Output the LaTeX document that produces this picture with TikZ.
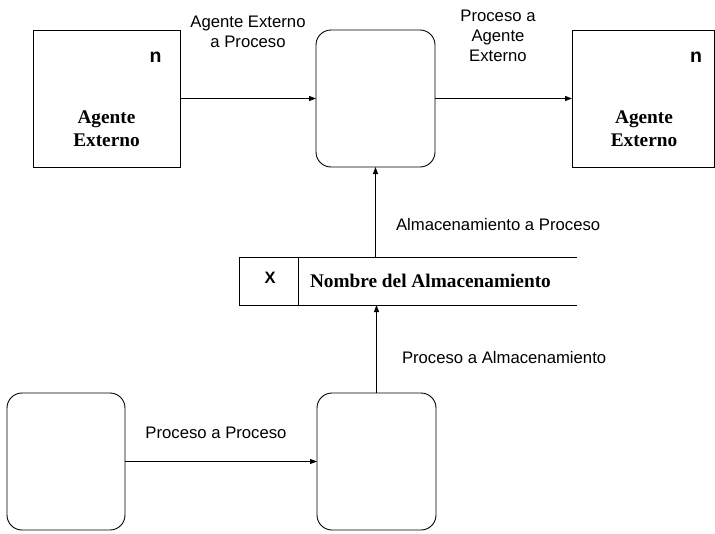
\documentclass[tikz,border=0pt]{standalone}
\usepackage{fontspec}
\setmainfont{Liberation Sans}
\newfontfamily\lsans{Liberation Sans}
\newfontfamily\lserif{Liberation Serif}
\usetikzlibrary{arrows.meta}
\begin{document}
\begin{tikzpicture}[x=1pt,y=-1pt,
  every node/.style={inner sep=0pt,outer sep=0pt},
  agent/.style={draw,line width=0.9pt,minimum width=147pt,minimum height=137pt},
  proc/.style={draw,line width=0.9pt,rounded corners=15pt,minimum width=119pt,minimum height=137pt},
  lbl/.style={font=\lsans\fontsize{16.7}{20}\selectfont,align=center},
  ttl/.style={font=\lserif\bfseries\fontsize{19.3}{23}\selectfont,align=center},
  cornermark/.style={font=\lsans\bfseries\fontsize{19.5}{20}\selectfont},
  arr/.style={line width=0.9pt,-{Triangle[length=7pt,width=5pt]}},
  ln/.style={line width=0.9pt}]
\useasboundingbox (0,0) rectangle (715,533);
% nodes
\node[agent] (ae1) at (106.5,98.5) {};
\node[proc] (p1) at (375.5,98.5) {};
\node[agent,minimum width=142pt] (ae2) at (643,98.5) {};
\node[proc,minimum width=118pt] (p2) at (66,461.5) {};
\node[proc] (p3) at (376.5,461.5) {};
\node[minimum width=338pt,minimum height=48pt] (st) at (408,281) {};
% store lines
\draw[ln] (st.north east) -- (st.north west) -- (st.south west) -- (st.south east);
\coordinate (dv) at (298,257);
\draw[ln] (dv) -- (dv |- st.south);
% texts inside
\node[cornermark] (n1) at (155.5,57) {n};
\node[cornermark] (n2) at (696,57) {n};
\node[ttl] (t1) at (106.5,129) {Agente\\Externo};
\node[ttl] (t2) at (644,129) {Agente\\Externo};
\node[font=\lsans\bfseries\fontsize{16.5}{18}\selectfont] (x) at (270,278) {X};
\node[ttl,anchor=west] (sn) at (310,281) {Nombre del Almacenamiento};
% connectors
\draw[arr] (ae1.east) -- (p1.west);
\draw[arr] (p1.east) -- (ae2.west);
\draw[arr] (p2.east) -- (p3.west);
\draw[arr] (st.north -| p1.south) -- (p1.south);
\draw[arr] (p3.north) -- (p3.north |- st.south);
% labels
\node[lbl] (l1) at (248,32) {Agente Externo\\a Proceso};
\node[lbl] (l2) at (498,36) {Proceso a\\Agente\\Externo};
\node[lbl,anchor=west] (l3) at (396,225) {Almacenamiento a Proceso};
\node[lbl,anchor=west] (l4) at (402,358) {Proceso a Almacenamiento};
\node[lbl] (l5) at (216,433) {Proceso a Proceso};
\end{tikzpicture}
\end{document}
